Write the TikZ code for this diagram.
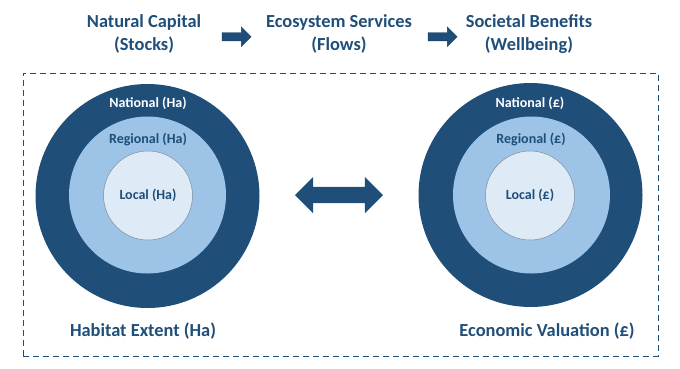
\documentclass[tikz,border=0pt]{standalone}
\usepackage{fontspec}
\setmainfont{Carlito}
\usetikzlibrary{shapes.arrows}
\definecolor{navy}{HTML}{1F4E79}
\definecolor{midblue}{HTML}{9DC3E6}
\definecolor{paleblue}{HTML}{DEEBF7}
\definecolor{rimgray}{HTML}{7F8C99}
\tikzset{
  title/.style={text=navy, font=\fontsize{18.4}{23}\selectfont\bfseries, align=center, inner sep=0pt},
  ringlbl/.style={font=\fontsize{14}{16}\selectfont\bfseries, inner sep=0pt},
  bottomlbl/.style={text=navy, font=\fontsize{18.4}{22}\selectfont\bfseries, inner sep=0pt},
  outerring/.style={circle, fill=navy, draw=none, minimum size=224pt, inner sep=0pt},
  midring/.style={circle, fill=midblue, draw=none, minimum size=157pt, inner sep=0pt},
  innerring/.style={circle, fill=paleblue, draw=rimgray, line width=0.5pt, minimum size=89pt, inner sep=0pt},
  smallarrow/.style={single arrow, fill=navy, draw=navy!80!black, line width=0.4pt, minimum height=29pt, text height=0pt, text depth=0pt, inner xsep=0pt, inner ysep=4pt, single arrow head extend=5.5pt, single arrow tip angle=90},
  bigarrow/.style={double arrow, fill=navy, draw=none, minimum height=88pt, text height=0pt, text depth=0pt, inner xsep=0pt, inner ysep=8pt, double arrow head extend=10pt, double arrow tip angle=90}
}
\begin{document}
\begin{tikzpicture}[x=1pt,y=-1pt]
\useasboundingbox (0,0) rectangle (680,368);
% top row
\node[title] (nc) at (144,34) {Natural Capital\\(Stocks)};
\node[title] (es) at (339,34) {Ecosystem Services\\(Flows)};
\node[title] (sb) at (529,34) {Societal Benefits\\(Wellbeing)};
\node[smallarrow] (a1) at (234.5,36.7) {};
\node[smallarrow] (a2) at (440.5,36.7) {};
% dashed frame
\node[draw=navy, dashed, dash pattern=on 6pt off 4pt, line width=0.9pt, minimum width=635pt, minimum height=283pt, inner sep=0pt] (frame) at (340.5,214.5) {};
% left rings
\node[outerring] (lo) at (147.5,196) {};
\node[midring] (lm) at (147.5,195) {};
\node[innerring] (li) at (148,195.5) {};
\node[ringlbl, text=white] (lnat) at (148,103) {National (Ha)};
\node[ringlbl, text=navy] (lreg) at (148,139) {Regional (Ha)};
\node[ringlbl, text=navy] (lloc) at (148,195) {Local (Ha)};
% right rings
\node[outerring] (ro) at (530.5,195) {};
\node[midring] (rm) at (531.5,195) {};
\node[innerring] (ri) at (530,195.5) {};
\node[ringlbl, text=white] (rnat) at (530,103) {National (£)};
\node[ringlbl, text=navy] (rreg) at (531,139) {Regional (£)};
\node[ringlbl, text=navy] (rloc) at (530,195) {Local (£)};
% double arrow
\node[bigarrow] (da) at (339,195) {};
% bottom labels
\node[bottomlbl] (hab) at (143,331) {Habitat Extent (Ha)};
\node[bottomlbl] (eco) at (547,331) {Economic Valuation (£)};
\end{tikzpicture}
\end{document}
